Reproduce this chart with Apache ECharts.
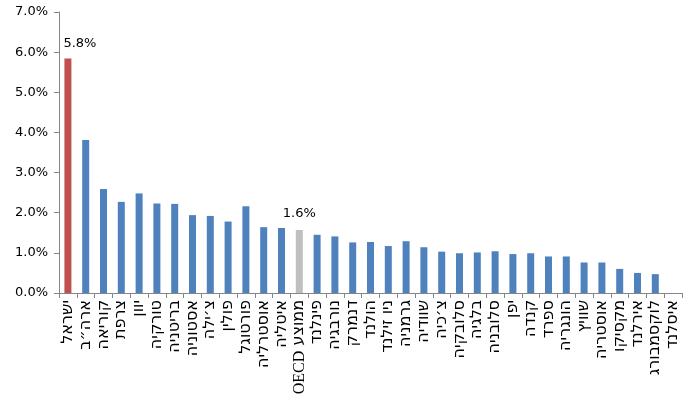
<!DOCTYPE html>
<html>
<head>
<meta charset="utf-8">
<script src="https://cdn.jsdelivr.net/npm/echarts@6/dist/echarts.min.js"></script>
<style>
  html, body { margin: 0; padding: 0; background: #fff; }
  #chart { width: 700px; height: 401px; }
</style>
</head>
<body>
<div id="chart"></div>
<script>
// countries, left to right
var countries = [
    'ישראל', 'ארה״ב', 'קוריאה', 'צרפת', 'יוון', 'טורקיה', 'בריטניה', 'אסטוניה',
    'צ׳ילה', 'פולין', 'פורטוגל', 'אוסטרליה', 'איטליה', 'ממוצע OECD', 'פינלנד',
    'נורבגיה', 'דנמרק', 'הולנד', 'ניו זילנד', 'גרמניה', 'שוודיה', 'צ׳כיה',
    'סלובקיה', 'בלגיה', 'סלובניה', 'יפן', 'קנדה', 'ספרד', 'הונגריה', 'שוויץ',
    'אוסטריה', 'מקסיקו', 'אירלנד', 'לוקסמבורג', 'איסלנד'
];
// percent
var values = [
    5.84, 3.81, 2.59, 2.27, 2.48, 2.23, 2.22, 1.94,
    1.92, 1.78, 2.16, 1.64, 1.62, 1.57, 1.45,
    1.41, 1.26, 1.27, 1.17, 1.29, 1.14, 1.03,
    0.99, 1.01, 1.04, 0.97, 0.99, 0.91, 0.91, 0.76,
    0.76, 0.60, 0.50, 0.47, 0
];
var yTicks = [0, 1, 2, 3, 4, 5, 6, 7];

var israel = 'ישראל';
var oecd = 'ממוצע OECD';

var barData = values.map(function (v, i) {
    var item = { value: v };
    if (countries[i] === israel) {
        item.itemStyle = { color: '#C0504D' };
        item.label = { show: true, offset: [12, 0], distance: 8 };
    } else if (countries[i] === oecd) {
        item.itemStyle = { color: '#BFBFBF' };
        item.label = { show: true, distance: 10 };
    }
    return item;
});

var chart = echarts.init(document.getElementById('chart'));
chart.setOption({
    animation: false,
    grid: { left: 59, right: 18, top: 12, bottom: 108 },
    xAxis: {
        type: 'category',
        data: countries,
        axisLine: { lineStyle: { color: '#868686', width: 1 } },
        axisTick: { show: true, alignWithLabel: false, length: 5, lineStyle: { color: '#868686' } },
        axisLabel: {
            interval: 0,
            rotate: 90,
            margin: 7,
            color: '#000',
            fontSize: 16,
            fontFamily: 'DejaVu Sans, sans-serif',
            formatter: function (v) {
                // latin part set in serif, as in the original
                if (v === oecd) return '{lat|OECD} ' + v.replace(' OECD', '');
                return '\u202B' + v + '\u202C';
            },
            rich: {
                lat: { fontFamily: 'Liberation Serif, serif', fontSize: 16, color: '#000' }
            }
        }
    },
    yAxis: {
        type: 'value',
        min: yTicks[0],
        max: yTicks[yTicks.length - 1],
        interval: 1,
        splitLine: { show: false },
        axisLine: { show: true, lineStyle: { color: '#868686', width: 1 } },
        axisTick: { show: true, length: 5, lineStyle: { color: '#868686' } },
        axisLabel: {
            margin: 11,
            color: '#000',
            fontSize: 13,
            fontFamily: 'DejaVu Sans, sans-serif',
            formatter: function (v) { return v.toFixed(1) + '%'; }
        }
    },
    series: [{
        type: 'bar',
        data: barData,
        barWidth: 7,
        itemStyle: { color: '#4F81BD' },
        label: {
            show: false,
            position: 'top',
            color: '#000',
            fontSize: 13,
            fontFamily: 'DejaVu Sans, sans-serif',
            formatter: function (p) { return p.value.toFixed(1) + '%'; }
        }
    }]
});
</script>
</body>
</html>
